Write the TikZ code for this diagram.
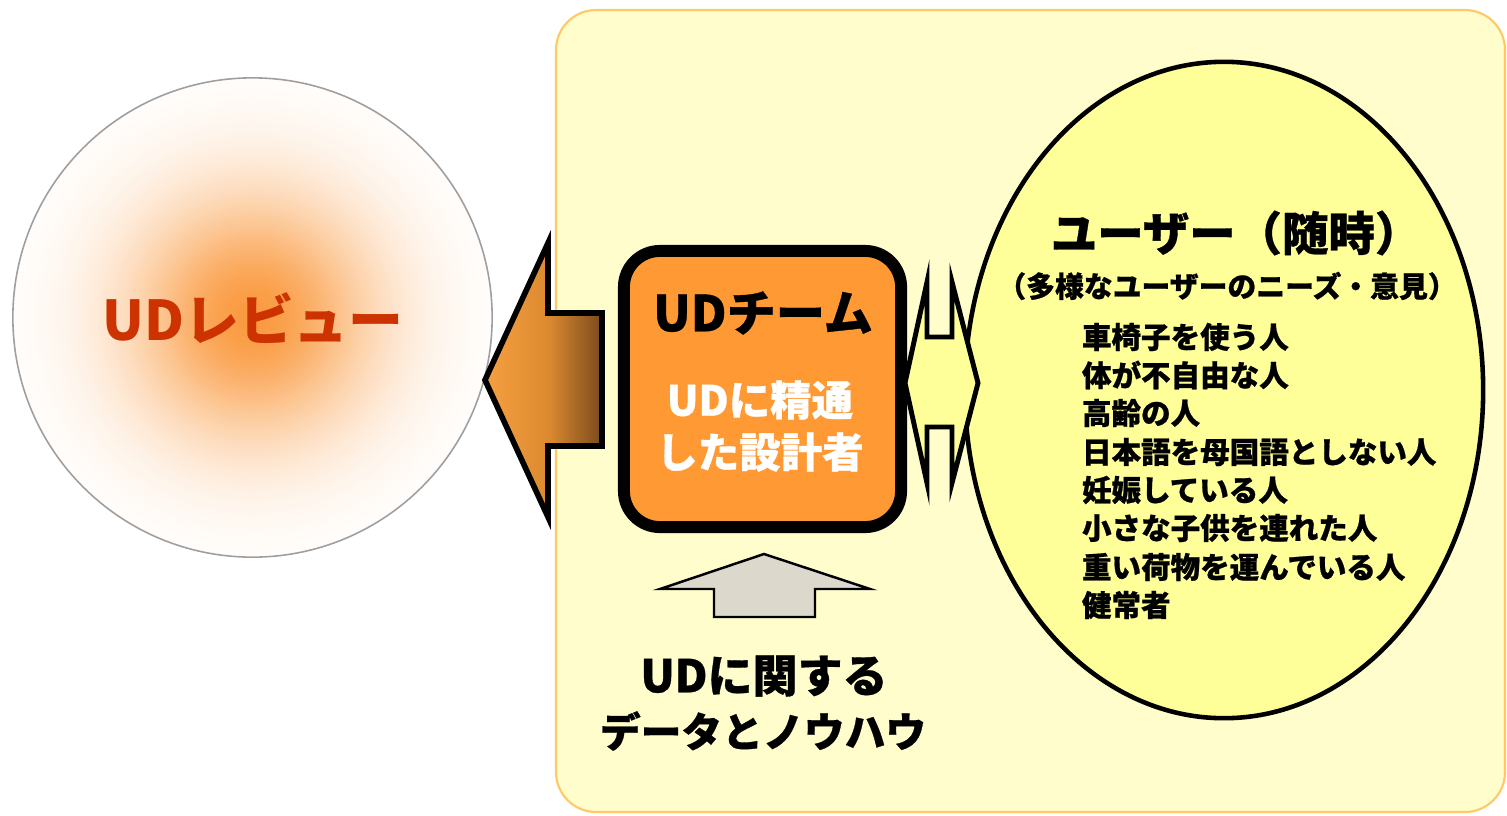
\documentclass[tikz,border=0pt]{standalone}
\usepackage{fontspec}
\setmainfont{Noto Sans CJK JP}[BoldFeatures={FakeBold=0.7}]
\newfontfamily\jpplain{Noto Sans CJK JP}
\usetikzlibrary{shapes.geometric}
\definecolor{bgfill}{HTML}{FFFDCB}
\definecolor{bgdraw}{HTML}{FFC966}
\definecolor{teamfill}{HTML}{FF9933}
\definecolor{userfill}{HTML}{FFFF99}
\definecolor{reviewtxt}{HTML}{CC3300}
\definecolor{arrowA}{HTML}{F5A040}
\definecolor{arrowM}{HTML}{DC8A30}
\definecolor{arrowB}{HTML}{7A4A1C}
\definecolor{upfill}{HTML}{DDD8CC}
\definecolor{glowcol}{HTML}{FA9A40}
\pgfdeclarehorizontalshading{leftarrowshade}{100bp}{color(0bp)=(arrowA); color(25bp)=(arrowA); color(52bp)=(arrowM); color(75bp)=(arrowB); color(100bp)=(arrowB)}
\tikzset{
  jp/.style={inner sep=0pt, outer sep=0pt},
  blockarrow/.style={draw=black, line join=miter},
}
\begin{document}
\begin{tikzpicture}[x=0.01cm, y=-0.01cm]
\useasboundingbox (0,0) rectangle (1507,815);
% background panel
\draw[draw=bgdraw, fill=bgfill, line width=0.6pt, rounded corners=0.4cm] (556,10) rectangle (1505,812);
% review circle with soft orange glow
\coordinate (reviewc) at (252.5,317.5);
\foreach \i in {0,...,79} {
  \pgfmathsetmacro\rr{2.395-0.03*\i}
  \pgfmathsetmacro\mm{100*exp(-(\rr/1.25)^2)}
  \fill[glowcol!\mm!white] (reviewc) circle[radius=\rr cm];
}
\node[circle, draw=gray!75, line width=0.45pt, minimum size=4.79cm, inner sep=0pt] (review) at (reviewc) {};
\node[jp, text=reviewtxt, font=\fontsize{15.6}{18}\selectfont\jpplain\bfseries] (reviewtxt) at (253,318) {UDレビュー};
% left block arrow
\shadedraw[blockarrow, shading=leftarrowshade, line width=1.6pt] (602,313) -- (548,313) -- (548,243) -- (485,380) -- (548,517) -- (548,446) -- (602,446) -- cycle;
% users ellipse
\node[ellipse, draw=black, line width=1.3pt, fill=userfill, minimum width=5.18cm, minimum height=6.56cm, inner sep=0pt] (users) at (1224,390) {};
% team box
\node[draw=black, line width=3.4pt, fill=teamfill, rounded corners=0.36cm, minimum width=2.77cm, minimum height=2.76cm, inner sep=0pt] (team) at (762.5,389) {};
% double arrow
\filldraw[blockarrow, fill=userfill, line width=1.4pt] (905,383) -- (927,282) -- (927,337) -- (952,337) -- (952,282) -- (978,383) -- (952,483) -- (952,427) -- (927,427) -- (927,483) -- cycle;
% up arrow
\filldraw[blockarrow, fill=upfill, line width=0.7pt] (764,554) -- (870,589) -- (815,589) -- (815,617) -- (714,617) -- (714,589) -- (660,589) -- cycle;
% team texts
\node[jp, font=\fontsize{14}{16}\selectfont\bfseries] (teamtitle) at (763,313) {UDチーム};
\node[jp, text=white, font=\fontsize{11.8}{14}\selectfont\bfseries] (teamsubA) at (760,400) {UDに精通};
\node[jp, text=white, font=\fontsize{11.8}{14}\selectfont\bfseries] (teamsubB) at (760,452) {した設計者};
% bottom texts
\node[jp, font=\fontsize{12.8}{15}\selectfont\bfseries] (knowA) at (764,676) {UDに関する};
\node[jp, font=\fontsize{11.6}{14}\selectfont\bfseries] (knowB) at (763,731) {データとノウハウ};
% users texts
\node[jp, font=\fontsize{13.2}{15}\selectfont\bfseries] (usertitle) at (1236,233) {ユーザー（随時）};
\node[jp, font=\fontsize{8.2}{10}\selectfont\bfseries] (usersub) at (1227,286) {（多様なユーザーのニーズ・意見）};
\node[jp, anchor=west, font=\fontsize{8.4}{10}\selectfont\bfseries] (uA) at (1082,337) {車椅子を使う人};
\node[jp, anchor=west, font=\fontsize{8.4}{10}\selectfont\bfseries] (uB) at (1082,375) {体が不自由な人};
\node[jp, anchor=west, font=\fontsize{8.4}{10}\selectfont\bfseries] (uC) at (1082,413) {高齢の人};
\node[jp, anchor=west, font=\fontsize{8.4}{10}\selectfont\bfseries] (uD) at (1082,452) {日本語を母国語としない人};
\node[jp, anchor=west, font=\fontsize{8.4}{10}\selectfont\bfseries] (uE) at (1082,490) {妊娠している人};
\node[jp, anchor=west, font=\fontsize{8.4}{10}\selectfont\bfseries] (uF) at (1082,528) {小さな子供を連れた人};
\node[jp, anchor=west, font=\fontsize{8.4}{10}\selectfont\bfseries] (uG) at (1082,567) {重い荷物を運んでいる人};
\node[jp, anchor=west, font=\fontsize{8.4}{10}\selectfont\bfseries] (uH) at (1082,605) {健常者};
\end{tikzpicture}
\end{document}
